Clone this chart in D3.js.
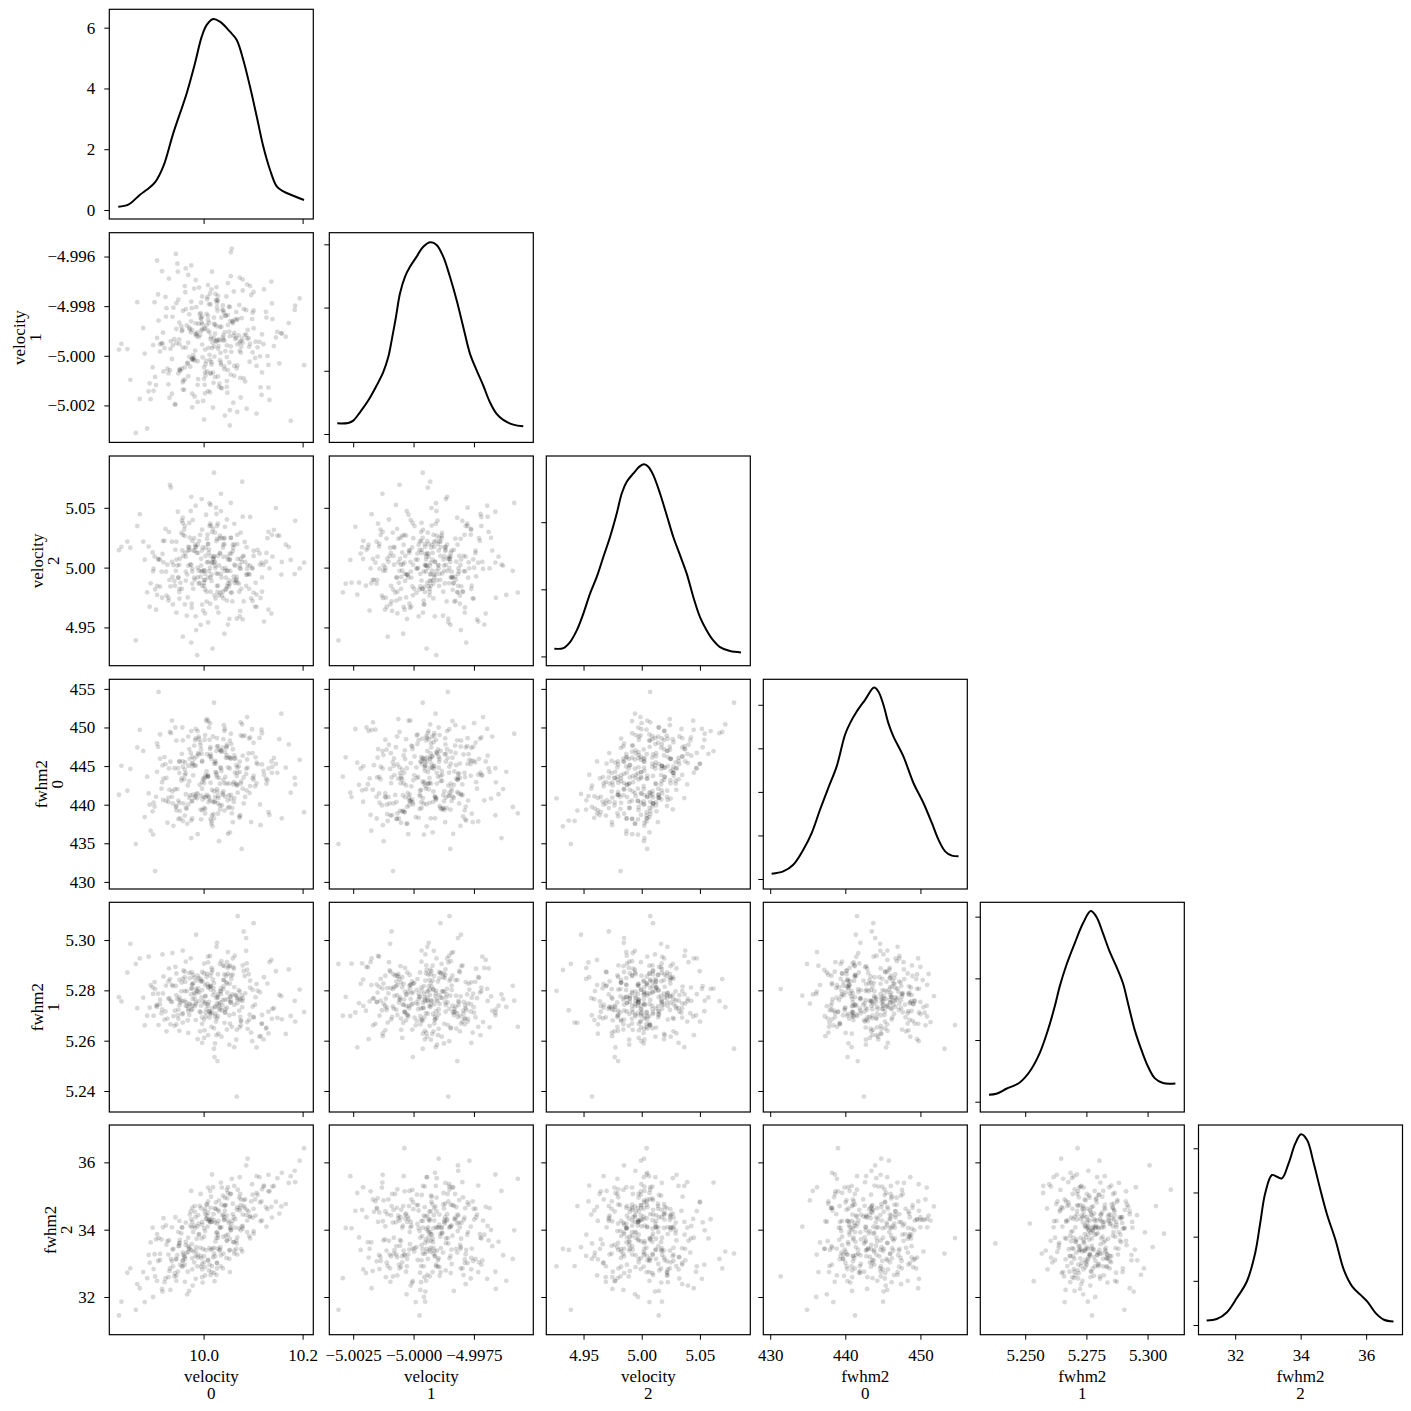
<!DOCTYPE html>
<html>
<head>
<meta charset="utf-8">
<script src="https://cdn.jsdelivr.net/npm/d3@7"></script>
<style>
  body { margin: 0; background: #fff; }
  text { font-family: "Liberation Serif", "DejaVu Serif", serif; }
</style>
</head>
<body>
<div class="vis-pairplot"></div>
<script>
// posterior draws, one array per variable (same draw index across arrays)
const velocity0 = [
  10.021, 9.968, 10.083, 9.995, 10.047, 9.912, 10.126, 10.003, 9.957, 10.061,
  10.034, 9.889, 10.012, 10.098, 9.976, 10.055, 9.941, 10.019, 10.142, 9.985,
  9.927, 10.071, 10.008, 9.962, 10.113, 10.026, 9.871, 10.044, 9.998, 10.088,
  10.015, 9.949, 10.067, 9.983, 10.176, 10.039, 9.934, 10.002, 10.059, 9.906,
  10.093, 9.972, 10.029, 10.117, 9.958, 10.006, 9.897, 10.052, 9.991, 10.074,
  9.945, 10.038, 10.131, 9.979, 10.011, 9.863, 10.064, 10.025, 9.953, 10.101,
  10.047, 9.988, 9.924, 10.079, 10.016, 10.158, 9.966, 10.032, 9.917, 10.057,
  10.004, 10.091, 9.939, 10.022, 9.975, 10.068, 9.846, 10.013, 10.107, 9.993,
  10.036, 9.961, 10.076, 9.901, 10.049, 10.009, 10.122, 9.982, 10.027, 9.948,
  10.084, 9.997, 10.041, 9.931, 10.062, 10.194, 9.969, 10.018, 9.909, 10.053,
  9.986, 10.072, 10.001, 9.955, 10.137, 10.031, 9.921, 10.045, 9.978, 10.096,
  10.024, 9.943, 10.058, 9.881, 10.014, 10.086, 9.964, 10.035, 10.149, 9.994,
  9.936, 10.066, 10.007, 10.104, 9.971, 10.043, 9.898, 10.028, 9.989, 10.078,
  10.051, 9.952, 10.118, 9.981, 10.037, 9.829, 10.063, 10.005, 9.944, 10.089,
  10.019, 9.915, 10.081, 9.999, 10.166, 10.046, 9.973, 10.033, 9.958, 10.109,
  9.992, 10.056, 9.929, 10.023, 10.094, 9.967, 10.042, 9.886, 10.069, 10.011,
  10.129, 9.984, 10.048, 9.937, 10.017, 10.073, 9.902, 10.039, 9.976, 10.203,
  10.003, 10.087, 9.951, 10.029, 9.919, 10.061, 9.996, 10.115, 9.963, 10.044,
  9.979, 10.054, 10.012, 9.893, 10.099, 10.026, 9.947, 10.067, 9.987, 10.138,
  10.031, 9.959, 10.077, 9.933, 10.009, 10.184, 9.974, 10.052, 9.908, 10.021,
  10.043, 9.962, 10.101, 10.010, 9.904, 10.059, 10.016, 9.981, 10.146, 9.942,
  9.997, 10.075, 9.929, 10.027, 10.121, 9.977, 9.878, 10.049, 10.004, 10.086,
  10.023, 9.951, 10.053, 9.988, 10.172, 9.916, 10.035, 9.969, 10.066, 10.007,
  9.938, 10.014, 10.133, 9.956, 10.047, 9.995, 10.079, 9.852, 10.029, 9.975,
  10.062, 10.001, 9.923, 10.107, 10.021, 9.964, 10.042, 10.092, 9.984, 9.891,
  9.990, 10.033, 10.073, 9.945, 10.013, 10.157, 9.971, 10.055, 9.912, 10.026,
  10.114, 10.009, 9.977, 10.040, 9.949, 10.068, 9.997, 10.017, 10.081, 9.834,
  9.958, 10.047, 10.003, 10.127, 9.932, 10.024, 10.053, 9.982, 10.036, 10.099,
  10.014, 9.984, 10.027, 9.936, 10.075, 10.001, 10.139, 9.962, 10.042, 9.995,
  10.055, 9.925, 10.020, 10.088, 9.969, 10.035, 10.006, 9.899, 10.068, 10.049,
  9.977, 10.029, 10.105, 9.997, 10.013, 9.951, 10.060, 9.990, 10.185, 9.956,
  10.033, 9.994, 9.958, 10.073, 10.009, 10.118, 9.918, 10.021, 9.977, 10.055,
  10.001, 10.094, 9.984, 10.016, 9.866, 10.040, 10.075, 9.964, 10.027, 10.131,
  10.049, 9.971, 10.014, 10.101, 9.988, 9.945, 10.030, 10.062, 10.009, 9.930,
  9.951, 10.023, 10.040, 10.003, 10.079, 9.975, 10.153, 9.997, 10.053, 9.906
];
const velocity1 = [
  -4.99872, -5.00031, -4.99915, -4.99786, -5.00102, -4.99954, -4.99823, -5.00067, -4.99896, -4.99741,
  -4.99988, -5.00143, -4.99907, -4.99852, -5.00015, -4.99679, -4.99933, -5.00209, -4.99961, -4.99804,
  -5.00052, -4.99918, -4.99763, -5.00096, -4.99944, -4.99881, -5.00174, -4.99838, -5.00006, -4.99712,
  -4.99925, -5.00071, -4.99856, -4.99979, -5.00262, -4.99797, -4.99941, -5.00117, -4.99869, -4.99616,
  -5.00024, -4.99893, -4.99759, -5.00158, -4.99967, -4.99831, -5.00047, -4.99903, -4.99725, -5.00089,
  -4.99948, -4.99814, -5.00128, -4.99997, -4.99867, -5.00311, -4.99932, -4.99776, -5.00061, -4.99889,
  -4.99958, -5.00186, -4.99842, -4.99693, -5.00035, -4.99911, -4.99878, -5.00112, -4.99951, -4.99568,
  -5.00079, -4.99929, -4.99806, -5.00003, -4.99861, -5.00226, -4.99973, -4.99749, -5.00041, -4.99917,
  -4.99846, -5.00137, -4.99963, -4.99784, -5.00058, -4.99899, -4.99732, -5.00019, -4.99937, -4.99661,
  -5.00104, -4.99955, -4.99827, -5.00169, -4.99908, -4.99769, -5.00082, -4.99946, -4.99858, -5.00281,
  -4.99921, -4.99795, -5.00047, -4.99882, -4.99701, -5.00124, -4.99969, -4.99839, -5.00012, -4.99755,
  -4.99941, -5.00195, -4.99863, -4.99991, -5.00073, -4.99816, -4.99648, -5.00036, -4.99904, -4.99847,
  -5.00153, -4.99928, -4.99772, -5.00009, -4.99887, -5.00241, -4.99957, -4.99819, -5.00094, -4.99931,
  -4.99802, -5.00056, -4.99914, -4.99729, -5.00131, -4.99975, -4.99853, -5.00021, -4.99589, -4.99896,
  -5.00068, -4.99949, -4.99811, -5.00182, -4.99923, -4.99761, -5.00044, -4.99884, -5.00107, -4.99966,
  -4.99833, -4.99984, -5.00115, -4.99874, -4.99719, -5.00029, -4.99938, -5.00293, -4.99851, -4.99792,
  -5.00001, -4.99912, -5.00149, -4.99843, -4.99969, -4.99685, -5.00085, -4.99927, -4.99808, -5.00038,
  -4.99892, -5.00213, -4.99953, -4.99778, -5.00063, -4.99919, -4.99866, -5.00127, -4.99744, -4.99981,
  -5.00016, -4.99859, -4.99996, -5.00175, -4.99826, -4.99943, -4.99629, -5.00051, -4.99906, -4.99789,
  -4.99934, -5.00099, -4.99848, -4.99972, -5.00142, -4.99815, -4.99905, -5.00027, -4.99753, -4.99962,
  -4.99905, -5.00047, -4.99817, -4.99968, -5.00118, -4.99861, -4.99732, -5.00009, -4.99926, -5.00197,
  -4.99842, -4.99987, -5.00071, -4.99776, -4.99953, -5.00153, -4.99888, -4.99707, -5.00034, -4.99916,
  -5.00086, -4.99934, -4.99803, -5.00022, -4.99868, -4.99659, -5.00129, -4.99947, -4.99824, -5.00063,
  -4.99958, -4.99793, -5.00178, -4.99901, -5.00005, -4.99851, -4.99737, -5.00097, -4.99972, -4.99636,
  -5.00041, -4.99889, -4.99763, -5.00233, -4.99929, -4.99812, -5.00054, -4.99964, -4.99695, -5.00111,
  -4.99871, -5.00018, -4.99946, -4.99788, -5.00147, -4.99909, -4.99833, -5.00076, -4.99983, -4.99723,
  -5.00002, -4.99856, -5.00208, -4.99937, -4.99774, -5.00039, -4.99894, -4.99661, -5.00091, -4.99952,
  -4.99819, -5.00125, -4.99975, -4.99846, -5.00058, -4.99751, -4.99921, -5.00164, -4.99883, -4.99986,
  -5.00069, -4.99914, -4.99787, -5.00013, -4.99941, -5.00257, -4.99852, -4.99719, -5.00043, -4.99899,
  -4.99962, -4.99808, -5.00109, -4.99931, -4.99674, -5.00028, -4.99877, -5.00141, -4.99954, -4.99836,
  -4.99896, -5.00083, -4.99943, -4.99761, -5.00017, -4.99866, -5.00189, -4.99924, -4.99798, -5.00052,
  -4.99939, -4.99828, -5.00136, -4.99979, -4.99715, -5.00067, -4.99907, -4.99846, -5.00011, -4.99583,
  -5.00093, -4.99951, -4.99869, -5.00026, -4.99784, -4.99918, -5.00168, -4.99967, -4.99805, -5.00037,
  -4.99876, -5.00004, -4.99933, -4.99743, -5.00117, -4.99892, -4.99961, -5.00081, -4.99839, -4.99689,
  -5.00056, -4.99911, -4.99818, -5.00151, -4.99947, -4.99782, -5.00031, -4.99873, -5.00219, -4.99928
];
const velocity2 = [
  5.0093, 4.9751, 5.0214, 4.9968, 5.0402, 4.9841, 5.0049, 4.9617, 5.0143, 4.9926,
  4.9790, 5.0176, 5.0538, 4.9997, 4.9664, 5.0249, 4.9888, 5.0073, 5.0316, 4.9478,
  5.0024, 4.9866, 5.0275, 4.9692, 5.0118, 4.9951, 5.0447, 4.9814, 5.0168, 4.9989,
  5.0351, 4.9917, 4.9573, 5.0191, 5.0064, 4.9800, 5.0668, 4.9976, 5.0139, 4.9772,
  4.9942, 5.0251, 4.9849, 5.0041, 5.0374, 4.9716, 5.0127, 4.9893, 5.0223, 4.9638,
  5.0067, 4.9993, 5.0299, 4.9823, 5.0151, 4.9391, 5.0016, 5.0501, 4.9873, 5.0097,
  4.9724, 5.0192, 4.9966, 5.0426, 4.9889, 5.0047, 4.9598, 5.0243, 5.0114, 4.9791,
  5.0166, 4.9948, 5.0022, 4.9768, 5.0592, 4.9874, 5.0218, 4.9999, 4.9672, 5.0273,
  4.9917, 5.0318, 4.9823, 5.0092, 4.9973, 5.0197, 4.9549, 5.0141, 4.9846, 5.0467,
  5.0048, 4.9691, 5.0242, 4.9897, 5.0366, 4.9994, 5.0174, 4.9323, 5.0072, 4.9866,
  5.0123, 4.9798, 4.9974, 5.0291, 4.9616, 5.0018, 5.0224, 4.9917, 5.0397, 4.9743,
  4.9996, 5.0149, 4.9717, 5.0066, 5.0524, 4.9848, 5.0091, 4.9947, 5.0268, 4.9522,
  5.0217, 4.9892, 5.0043, 4.9674, 5.0172, 5.0341, 4.9968, 4.9797, 5.0124, 5.0718,
  4.9843, 5.0074, 4.9918, 5.0247, 4.9766, 5.0146, 4.9871, 5.0442, 4.9973, 5.0021,
  5.0324, 4.9967, 5.0098, 4.9641, 5.0192, 4.9821, 5.0026, 5.0267, 4.9423, 5.0148,
  4.9872, 5.0117, 4.9748, 5.0017, 5.0423, 4.9942, 5.0196, 4.9793, 5.0073, 4.9971,
  5.0246, 4.9593, 5.0091, 4.9923, 5.0297, 4.9994, 4.9818, 5.0167, 4.9698, 5.0042,
  4.9947, 5.0171, 4.9796, 5.0368, 5.0043, 4.9894, 5.0573, 4.9746, 5.0122, 4.9997,
  5.0143, 4.9972, 5.0347, 4.9869, 4.9721, 5.0221, 5.0017, 4.9922, 4.9268, 5.0274,
  4.9767, 5.0096, 5.0047, 4.9843, 5.0198, 4.9946, 5.0473, 4.9571, 5.0068, 5.0793,
  4.9973, 5.0266, 4.9791, 5.0124, 4.9648, 5.0192, 5.0041, 4.9917, 5.0498, 4.9849,
  5.0142, 4.9991, 4.9724, 5.0348, 5.0023, 4.9866, 5.0217, 4.9524, 5.0097, 4.9941,
  5.0292, 4.9823, 5.0067, 4.9918, 5.0173, 4.9748, 5.0617, 5.0016, 4.9899, 5.0241,
  4.9692, 5.0098, 4.9993, 5.0392, 4.9842, 5.0074, 4.9567, 5.0166, 4.9948, 5.0024,
  5.0191, 4.9898, 5.0323, 4.9774, 5.0041, 4.9967, 5.0248, 4.9823, 5.0517, 4.9673,
  4.9867, 5.0123, 5.0018, 4.9624, 5.0367, 4.9942, 5.0148, 4.9791, 5.0066, 5.0448,
  5.0023, 4.9542, 5.0224, 5.0091, 4.9916, 5.0273, 4.9848, 5.0042, 4.9717, 5.0174,
  5.0417, 4.9974, 4.9817, 5.0123, 5.0692, 4.9741, 5.0066, 4.9898, 5.0249, 4.9992,
  4.9918, 5.0173, 4.9667, 5.0048, 5.0292, 4.9874, 5.0092, 5.0348, 4.9447, 5.0017,
  5.0248, 4.9766, 5.0074, 4.9941, 5.0142, 5.0473, 4.9798, 4.9991, 5.0197, 4.9867,
  4.9992, 5.0098, 4.9873, 5.0317, 4.9698, 5.0023, 5.0166, 4.9974, 5.0391, 4.9823,
  5.0117, 4.9924, 5.0273, 4.9592, 5.0048, 4.9798, 5.0223, 5.0092, 4.9967, 5.0541,
  4.9848, 5.0017, 5.0172, 4.9942, 5.0348, 4.9742, 5.0073, 4.9892, 5.0241, 4.9648,
  5.0067, 5.0373, 4.9798, 5.0141, 4.9998, 5.0217, 4.9623, 5.0024, 4.9917, 5.0298,
  4.9741, 5.0048, 5.0192, 4.9898, 5.0092, 4.9373, 5.0267, 4.9973, 5.0117, 4.9848
];
const fwhm2_0 = [
  441.74, 442.50, 448.94, 438.11, 447.76, 445.96, 443.37, 438.87, 450.00, 442.91,
  444.82, 441.46, 448.40, 449.77, 440.40, 440.79, 444.72, 440.38, 446.06, 441.40,
  437.66, 444.95, 443.74, 438.59, 448.65, 443.87, 449.69, 441.03, 440.67, 451.35,
  446.24, 438.16, 442.48, 448.36, 441.56, 441.26, 449.26, 448.41, 437.73, 444.26,
  441.50, 445.94, 438.84, 449.71, 445.61, 444.31, 439.14, 442.74, 448.54, 438.64,
  448.30, 441.45, 444.70, 443.80, 440.90, 434.90, 445.98, 445.29, 438.21, 443.72,
  442.73, 449.55, 440.49, 446.35, 445.91, 438.23, 439.49, 447.13, 445.08, 438.88,
  443.84, 446.64, 437.26, 440.30, 449.54, 442.57, 441.81, 450.56, 442.77, 448.09,
  446.87, 443.28, 443.01, 439.76, 444.84, 443.61, 443.89, 440.90, 442.00, 444.72,
  441.00, 442.94, 450.30, 441.95, 440.86, 445.81, 445.03, 437.20, 454.60, 446.13,
  446.27, 438.49, 443.26, 443.11, 445.60, 435.28, 446.17, 446.08, 445.39, 437.75,
  444.22, 450.00, 439.56, 438.40, 447.44, 443.98, 441.35, 447.04, 444.13, 439.37,
  441.02, 442.74, 446.54, 442.38, 443.05, 449.80, 436.13, 441.65, 446.67, 450.40,
  441.21, 439.19, 449.25, 445.94, 439.90, 441.29, 444.15, 450.88, 439.70, 444.79,
  448.83, 442.07, 440.16, 443.40, 444.80, 447.37, 441.22, 439.38, 437.89, 445.25,
  442.57, 447.85, 440.92, 440.43, 448.73, 437.54, 449.55, 443.63, 441.56, 449.99,
  443.17, 441.08, 446.10, 441.72, 441.93, 444.22, 431.40, 447.40, 445.32, 439.02,
  449.02, 441.86, 445.61, 447.59, 443.37, 440.36, 446.59, 437.35, 445.48, 443.60,
  441.29, 446.03, 446.24, 436.63, 446.69, 446.96, 442.02, 443.70, 440.82, 444.13,
  443.46, 440.16, 434.27, 445.57, 443.61, 443.48, 446.70, 439.71, 447.50, 453.20,
  446.82, 444.53, 443.24, 440.33, 441.02, 447.18, 437.83, 447.66, 445.29, 442.00,
  442.08, 448.97, 440.35, 448.61, 444.39, 438.21, 446.96, 440.56, 440.95, 444.66,
  445.49, 440.24, 448.30, 436.18, 447.80, 442.90, 446.94, 440.04, 445.12, 451.09,
  440.17, 446.50, 438.68, 446.58, 447.55, 441.17, 442.08, 444.63, 441.10, 435.68,
  446.38, 439.57, 445.26, 445.44, 438.23, 444.05, 442.77, 448.56, 449.81, 440.00,
  446.53, 439.93, 445.58, 439.27, 447.20, 451.79, 440.90, 441.26, 449.09, 444.14,
  440.04, 441.12, 444.98, 448.48, 440.53, 444.13, 445.57, 438.62, 443.52, 445.03,
  448.33, 446.43, 439.45, 442.71, 449.43, 445.67, 436.42, 445.12, 444.36, 443.43,
  438.16, 445.03, 443.57, 450.90, 442.72, 440.99, 444.91, 443.86, 439.24, 447.16,
  445.94, 443.46, 438.79, 445.85, 448.82, 444.72, 441.26, 440.26, 444.80, 436.23,
  446.20, 440.16, 446.13, 445.66, 440.57, 445.58, 442.65, 448.80, 442.62, 443.41,
  442.71, 447.66, 444.92, 438.30, 443.77, 445.22, 440.62, 445.31, 440.49, 449.19,
  442.80, 442.41, 448.59, 437.54, 447.42, 441.71, 450.67, 439.57, 447.53, 439.04,
  439.58, 447.20, 442.84, 448.02, 441.45, 439.83, 440.85, 445.98, 450.83, 444.70,
  444.09, 441.00, 443.22, 443.53, 448.87, 437.94, 448.49, 439.30, 444.69, 447.94
];
const fwhm2_1 = [
  5.2794, 5.2681, 5.2857, 5.2739, 5.2912, 5.2763, 5.2648, 5.2821, 5.2705, 5.2886,
  5.2752, 5.2934, 5.2717, 5.2598, 5.2808, 5.2776, 5.2659, 5.2843, 5.2729, 5.3021,
  5.2688, 5.2801, 5.2745, 5.2874, 5.2616, 5.2769, 5.2927, 5.2712, 5.2836, 5.2674,
  5.2815, 5.2723, 5.2378, 5.2787, 5.2698, 5.2899, 5.2757, 5.2641, 5.2862, 5.2734,
  5.2703, 5.2848, 5.2771, 5.2667, 5.2958, 5.2726, 5.2812, 5.2584, 5.2791, 5.2694,
  5.2867, 5.2741, 5.2629, 5.2829, 5.2715, 5.2905, 5.2782, 5.2676, 5.2751, 5.3067,
  5.2731, 5.2606, 5.2819, 5.2758, 5.2889, 5.2685, 5.2797, 5.2722, 5.2943, 5.2655,
  5.2778, 5.2864, 5.2697, 5.2535, 5.2806, 5.2749, 5.2871, 5.2711, 5.2825, 5.2637,
  5.2916, 5.2759, 5.2678, 5.2833, 5.2764, 5.2622, 5.2852, 5.2737, 5.2989, 5.2701,
  5.2788, 5.2693, 5.2841, 5.2768, 5.2574, 5.2803, 5.2727, 5.2881, 5.2662, 5.2774,
  5.2839, 5.2719, 5.2611, 5.2796, 5.2921, 5.2747, 5.2684, 5.2858, 5.2766, 5.2632,
  5.2707, 5.2893, 5.2784, 5.2661, 5.2817, 5.3008, 5.2739, 5.2795, 5.2691, 5.2846,
  5.2753, 5.2604, 5.2826, 5.2743, 5.2869, 5.2712, 5.2786, 5.2519, 5.2809, 5.2733,
  5.2896, 5.2762, 5.2668, 5.2851, 5.2721, 5.2773, 5.2938, 5.2696, 5.2818, 5.2647,
  5.2781, 5.2709, 5.2877, 5.2756, 5.2627, 5.2832, 5.2744, 5.2905, 5.2672, 5.2799,
  5.2716, 5.2845, 5.2767, 5.2589, 5.2811, 5.2737, 5.2863, 5.2699, 5.3095, 5.2754,
  5.2827, 5.2682, 5.2791, 5.2948, 5.2728, 5.2653, 5.2805, 5.2761, 5.2872, 5.2714,
  5.2746, 5.2907, 5.2639, 5.2784, 5.2855, 5.2706, 5.2772, 5.2618, 5.2834, 5.2725,
  5.2861, 5.2752, 5.2692, 5.2821, 5.2735, 5.2973, 5.2765, 5.2643, 5.2798, 5.2687,
  5.2738, 5.2879, 5.2779, 5.2665, 5.2814, 5.2758, 5.2927, 5.2701, 5.2787, 5.2568,
  5.2763, 5.2852, 5.2694, 5.2811, 5.2738, 5.2927, 5.2655, 5.2789, 5.2876, 5.2719,
  5.2801, 5.2679, 5.2836, 5.2748, 5.2605, 5.2823, 5.2771, 5.2889, 5.2712, 5.2957,
  5.2736, 5.2842, 5.2668, 5.2795, 5.2883, 5.2724, 5.2807, 5.2631, 5.2779, 5.2865,
  5.2817, 5.2706, 5.2912, 5.2757, 5.2644, 5.2838, 5.2769, 5.2985, 5.2697, 5.2784,
  5.2742, 5.2868, 5.2716, 5.2573, 5.2829, 5.2753, 5.2896, 5.2683, 5.2806, 5.2731,
  5.2849, 5.2728, 5.2794, 5.2665, 5.2937, 5.2777, 5.2702, 5.2859, 5.2745, 5.2622,
  5.2792, 5.2911, 5.2738, 5.2816, 5.2687, 5.2764, 5.2873, 5.2711, 5.3034, 5.2756,
  5.2709, 5.2827, 5.2776, 5.2652, 5.2845, 5.2733, 5.2898, 5.2768, 5.2616, 5.2802,
  5.2858, 5.2744, 5.2689, 5.2822, 5.2761, 5.2906, 5.2726, 5.2797, 5.2671, 5.2835,
  5.2751, 5.2637, 5.2809, 5.2882, 5.2718, 5.2785, 5.2853, 5.2699, 5.2771, 5.2952,
  5.2725, 5.2864, 5.2773, 5.2591, 5.2819, 5.2741, 5.2892, 5.2757, 5.2676, 5.2831,
  5.2797, 5.2713, 5.2846, 5.2765, 5.2934, 5.2702, 5.2788, 5.2649, 5.2824, 5.2759,
  5.2684, 5.2839, 5.2752, 5.2871, 5.2729, 5.2805, 5.2661, 5.2914, 5.2776, 5.2715,
  5.2866, 5.2747, 5.2803, 5.2693, 5.2858, 5.2781, 5.2628, 5.2813, 5.2739, 5.2887,
  5.2772, 5.2696, 5.2841, 5.2754, 5.2899, 5.2721, 5.2782, 5.2667, 5.2826, 5.2743
];
const fwhm2_2 = [
  34.28, 32.75, 34.65, 34.64, 33.67, 33.28, 34.67, 32.64, 34.07, 34.37,
  33.48, 33.25, 32.96, 35.35, 33.57, 33.99, 32.61, 35.26, 35.30, 33.48,
  33.66, 34.04, 34.09, 32.45, 35.56, 33.91, 32.26, 34.73, 32.43, 34.27,
  34.98, 33.51, 33.59, 34.05, 35.59, 32.85, 33.13, 34.54, 34.77, 32.48,
  34.39, 34.45, 33.44, 34.84, 33.09, 34.32, 34.06, 33.38, 33.87, 35.06,
  32.48, 34.42, 35.63, 33.35, 32.79, 31.62, 34.31, 34.81, 32.96, 33.88,
  34.42, 33.17, 34.13, 34.11, 34.33, 35.69, 33.32, 33.38, 32.16, 35.51,
  33.39, 34.54, 33.43, 32.47, 34.31, 33.77, 32.72, 34.30, 35.59, 33.46,
  34.74, 33.19, 33.42, 33.27, 34.27, 33.10, 35.31, 34.70, 33.92, 32.75,
  34.90, 32.59, 34.29, 32.77, 35.30, 36.05, 33.76, 33.43, 33.75, 34.05,
  33.73, 34.96, 33.03, 33.89, 34.68, 34.87, 32.44, 33.82, 32.34, 34.84,
  33.65, 34.37, 34.26, 31.85, 34.22, 35.91, 33.64, 33.24, 35.53, 33.22,
  33.06, 33.67, 34.74, 34.90, 33.45, 34.56, 32.00, 34.18, 34.43, 33.35,
  34.20, 33.70, 34.27, 33.03, 35.25, 31.45, 34.06, 34.32, 33.13, 36.11,
  33.18, 33.71, 34.88, 33.43, 34.76, 33.16, 34.12, 34.05, 32.92, 35.03,
  34.71, 34.17, 32.59, 34.63, 33.74, 32.08, 34.30, 32.56, 35.19, 34.29,
  34.61, 33.22, 34.93, 33.41, 32.92, 34.64, 32.61, 35.01, 34.07, 36.42,
  32.89, 34.59, 33.61, 33.85, 34.34, 33.63, 33.74, 34.25, 33.13, 34.73,
  33.93, 35.06, 33.45, 33.62, 34.36, 32.66, 33.24, 34.59, 32.91, 34.36,
  34.54, 33.26, 34.09, 32.21, 34.51, 35.75, 34.55, 33.13, 33.07, 33.29,
  34.95, 33.21, 33.96, 34.26, 33.71, 34.46, 32.74, 34.12, 34.83, 32.71,
  32.98, 34.73, 33.26, 33.01, 35.28, 34.65, 32.74, 33.85, 34.45, 34.43,
  34.21, 34.26, 33.73, 33.26, 35.39, 32.24, 35.40, 33.34, 33.43, 34.42,
  32.91, 32.65, 35.14, 34.06, 35.18, 33.15, 34.45, 32.85, 33.76, 35.15,
  33.38, 33.79, 32.55, 35.09, 33.46, 34.21, 34.37, 33.81, 32.54, 33.02,
  34.18, 33.41, 35.56, 33.12, 34.23, 34.69, 32.18, 35.06, 33.10, 33.76,
  34.81, 34.84, 32.82, 33.79, 33.93, 33.26, 34.15, 35.64, 34.70, 31.86,
  33.32, 33.68, 33.96, 34.09, 32.85, 34.62, 32.74, 34.53, 34.07, 35.04,
  34.65, 33.37, 33.01, 34.07, 33.98, 34.04, 35.28, 32.96, 34.70, 32.90,
  34.06, 33.55, 34.46, 33.93, 33.51, 32.91, 34.75, 32.83, 34.67, 35.26,
  33.15, 34.59, 34.42, 32.82, 35.15, 33.60, 33.63, 33.85, 35.41, 32.90,
  34.07, 35.06, 33.07, 34.57, 33.09, 35.20, 34.07, 32.71, 34.23, 33.98,
  33.21, 34.39, 34.37, 34.23, 32.38, 33.29, 34.90, 33.54, 32.85, 35.14,
  35.09, 33.43, 33.40, 34.62, 34.10, 32.63, 34.26, 33.29, 35.25, 33.68,
  33.52, 33.21, 34.45, 34.62, 34.03, 33.40, 34.48, 34.23, 33.40, 33.87
];

// marginal KDE curves: grid values and densities
const kdeGrid0 = [9.8277, 9.8479, 9.8715, 9.8851, 9.9018, 9.9186, 9.9388, 9.9659, 9.9826, 9.9962, 10.0063, 10.0196,
  10.0331, 10.0533, 10.0669, 10.0802, 10.0937, 10.1073, 10.1206, 10.1341, 10.1477, 10.161, 10.1812, 10.2028];
const kdeDens0 = [0.108, 0.174, 0.503, 0.667, 0.907, 1.433, 2.530, 3.845, 4.831, 5.705, 6.090, 6.286,
  6.197, 5.868, 5.596, 4.939, 4.062, 3.076, 2.090, 1.325, 0.776, 0.611, 0.470, 0.329];
const kdeGrid1 = [-5.003161, -5.002705, -5.002498, -5.002220, -5.001877, -5.001529, -5.001255, -5.001048, -5.000907,
  -5.000729, -5.000563, -5.000356, -5.000149, -4.999872, -4.999598, -4.999292, -4.999043, -4.998770, -4.998492,
  -4.998215, -4.997941, -4.997664, -4.997386, -4.997113, -4.996836, -4.996558, -4.996284, -4.995870, -4.995456];
const kdeDens1 = [16.8, 17.5, 21.1, 34.3, 52.9, 76.7, 97.8, 121.6, 148.1, 185.1, 222.2, 248.7, 264.6, 280.5,
  296.3, 303.3, 299.0, 280.5, 248.7, 211.6, 169.3, 127.1, 100.6, 76.7, 50.2, 31.7, 22.2, 14.8, 12.1];
const kdeGrid2 = [4.92492, 4.93265, 4.93841, 4.94417, 4.94983, 4.95559, 4.96135, 4.96701, 4.97277, 4.97852, 4.98282,
  4.98711, 4.99278, 4.99854, 5.00198, 5.00567, 5.00996, 5.01572, 5.02148, 5.02714, 5.03290, 5.03866, 5.04432,
  5.05008, 5.05584, 5.06150, 5.06726, 5.07585, 5.08530];
const kdeDens2 = [0.575, 0.62, 1.07, 1.94, 3.19, 4.68, 5.92, 7.41, 8.90, 10.65, 12.14, 13.01, 13.63, 14.18, 14.31,
  14.13, 13.51, 12.14, 10.52, 8.90, 7.54, 6.17, 4.43, 2.93, 1.94, 1.19, 0.69, 0.40, 0.30];
const kdeGrid3 = [430.19, 431.73, 433.07, 434.40, 435.52, 436.63, 437.73, 438.85, 439.96, 440.63, 441.52, 442.63,
  443.83, 444.40, 445.07, 445.73, 446.40, 447.73, 449.07, 450.40, 451.52, 452.40, 453.29, 454.19, 455.07];
const kdeDens3 = [0.00243, 0.00349, 0.00657, 0.01344, 0.02110, 0.03179, 0.04179, 0.05170, 0.06624, 0.07160, 0.07693,
  0.08229, 0.08794, 0.08610, 0.08000, 0.07160, 0.06546, 0.05629, 0.04408, 0.03491, 0.02573, 0.01807, 0.01271,
  0.01073, 0.01041];
const kdeGrid4 = [5.23521, 5.23823, 5.24232, 5.24775, 5.25184, 5.25592, 5.25931, 5.26205, 5.26408, 5.26683, 5.27022,
  5.27361, 5.27676, 5.27908, 5.28178, 5.28452, 5.28726, 5.28995, 5.29199, 5.29473, 5.29747, 5.30016, 5.30290,
  5.30629, 5.31136];
const kdeDens4 = [1.13, 1.29, 2.10, 3.12, 4.90, 7.88, 11.65, 15.42, 18.66, 22.17, 25.68, 28.92, 30.91, 29.99, 27.29,
  24.32, 21.89, 19.20, 15.96, 11.65, 8.41, 5.71, 3.83, 3.02, 2.96];
const kdeGrid5 = [31.129, 31.436, 31.742, 32.049, 32.356, 32.610, 32.764, 32.917, 33.123, 33.276, 33.429, 33.632,
  33.837, 34.012, 34.196, 34.399, 34.604, 34.810, 35.064, 35.319, 35.577, 35.831, 36.037, 36.291, 36.546, 36.834];
const kdeDens5 = [0.0104, 0.0136, 0.0285, 0.0610, 0.0985, 0.1626, 0.2304, 0.2982, 0.3395, 0.3357, 0.3320, 0.3659,
  0.4111, 0.4315, 0.4186, 0.3659, 0.3056, 0.2491, 0.1926, 0.1248, 0.0870, 0.0682, 0.0531, 0.0269, 0.0120, 0.0081];

// labels and ticks
const varNames = ['velocity', 'velocity', 'velocity', 'fwhm2', 'fwhm2', 'fwhm2'];
const varCoords = ['0', '1', '2', '0', '1', '2'];
const colTicks = [[10.0, 10.2], [-5.0025, -5.0, -4.9975], [4.95, 5.0, 5.05], [430, 440, 450], [5.25, 5.275, 5.3], [32, 34, 36]];
const colFormats = ['.1f', '.4f', '.2f', 'd', '.3f', 'd'];
const rowTicks = [[], [-5.002, -5.000, -4.998, -4.996], [4.95, 5.0, 5.05], [430, 435, 440, 445, 450, 455], [5.24, 5.26, 5.28, 5.30], [32, 34, 36]];
const rowFormats = ['d', '.3f', '.2f', 'd', '.2f', 'd'];
const densityTicks = [[0, 2, 4, 6], [0, 100, 200, 300], [0, 5, 10], [0, 0.02, 0.04, 0.06, 0.08], [0, 10, 20, 30], [0, 0.1, 0.2, 0.3, 0.4]];

// axis limits
const axisLimits = [[9.8095, 10.2216], [-5.00349, -4.99504], [4.9180, 5.0933], [429.08, 456.24], [5.23165, 5.31500], [30.88, 37.11]];
const densityLimits = [[-0.296, 6.605], [-13.3, 318.4], [-0.69, 14.93], [-0.00459, 0.0917], [-1.67, 32.33], [-0.0219, 0.4527]];

const draw = () => {
    d3.select('.vis-pairplot > *').remove();
    const W = 1411, H = 1411;
    const colLeft = [109.3, 329.3, 546.3, 763.3, 980.3, 1198.5];
    const rowTop = [9.3, 232.7, 456, 679.3, 902.3, 1125];
    const pw = 204, ph = 209.7;
    const fontSize = 17;
    const serif = '"Liberation Serif", "DejaVu Serif", serif';

    const svg = d3.select('.vis-pairplot')
        .append('svg')
        .attr('width', W)
        .attr('height', H);

    const samples = [velocity0, velocity1, velocity2, fwhm2_0, fwhm2_1, fwhm2_2];
    const kdes = [[kdeGrid0, kdeDens0], [kdeGrid1, kdeDens1], [kdeGrid2, kdeDens2],
                  [kdeGrid3, kdeDens3], [kdeGrid4, kdeDens4], [kdeGrid5, kdeDens5]];
    const n = samples.length;

    for (let i = 0; i < n; i++) {
        for (let j = 0; j <= i; j++) {
            const g = svg.append('g')
                .attr('transform', 'translate(' + colLeft[j] + ',' + rowTop[i] + ')');
            const x = d3.scaleLinear().domain(axisLimits[j]).range([0, pw]);
            let y;
            const clipId = 'clip_' + i + '_' + j;
            g.append('clipPath').attr('id', clipId)
                .append('rect').attr('width', pw).attr('height', ph);

            if (i === j) {
                y = d3.scaleLinear().domain(densityLimits[i]).range([ph, 0]);
                const pts = kdes[i][0].map((v, k) => [v, kdes[i][1][k]]);
                const line = d3.line()
                    .x(d => x(d[0]))
                    .y(d => y(d[1]))
                    .curve(d3.curveCatmullRom.alpha(0.5));
                g.append('path')
                    .attr('d', line(pts))
                    .attr('fill', 'none')
                    .attr('stroke', '#000')
                    .attr('stroke-width', 2)
                    .attr('clip-path', 'url(#' + clipId + ')');
            } else {
                y = d3.scaleLinear().domain(axisLimits[i]).range([ph, 0]);
                const xs = samples[j], ys = samples[i];
                g.append('g')
                    .attr('clip-path', 'url(#' + clipId + ')')
                    .selectAll('circle')
                    .data(d3.range(xs.length))
                    .join('circle')
                    .attr('cx', k => x(xs[k]))
                    .attr('cy', k => y(ys[k]))
                    .attr('r', 2.4)
                    .attr('fill', '#111')
                    .attr('fill-opacity', 0.16);
            }

            // x axis: ticks everywhere, labels only on the bottom row
            const xAxis = d3.axisBottom(x)
                .tickValues(colTicks[j])
                .tickSizeInner(5).tickSizeOuter(0).tickPadding(9)
                .tickFormat(i === n - 1 ? d3.format(colFormats[j]) : () => '');
            const xg = g.append('g')
                .attr('transform', 'translate(0,' + ph + ')')
                .call(xAxis);
            xg.select('.domain').remove();

            // y axis: ticks everywhere, labels only on the first column
            const yAxis = d3.axisLeft(y)
                .tickValues(i === j ? densityTicks[i] : rowTicks[i])
                .tickSizeInner(5).tickSizeOuter(0).tickPadding(9)
                .tickFormat(j === 0 ? d3.format(rowFormats[i]) : () => '');
            const yg = g.append('g').call(yAxis);
            yg.select('.domain').remove();

            [xg, yg].forEach(ax => {
                ax.attr('font-family', serif).attr('font-size', fontSize);
                ax.selectAll('line').attr('stroke', '#000').attr('stroke-width', 1);
                ax.selectAll('text')
                    .attr('fill', '#000')
                    .style('font-size', fontSize + 'px')
                    .style('font-family', serif);
            });

            // frame
            g.append('rect')
                .attr('width', pw).attr('height', ph)
                .attr('fill', 'none')
                .attr('stroke', '#000')
                .attr('stroke-width', 1.2);

            // x label under the bottom row
            if (i === n - 1) {
                [[ph + 42, varNames[j]], [ph + 58.5, varCoords[j]]].forEach(([ly, t]) => {
                    g.append('text')
                        .attr('x', pw / 2).attr('y', ly)
                        .attr('text-anchor', 'middle').attr('dominant-baseline', 'central')
                        .style('font-size', fontSize + 'px')
                        .style('font-family', serif)
                        .text(t);
                });
            }

            // y label left of the first column (not for the top diagonal)
            if (j === 0 && i > 0) {
                const bb = yg.node().getBBox();
                const x2 = bb.x - 12, x1 = bb.x - 28;
                [[x1, varNames[i]], [x2, varCoords[i]]].forEach(([lx, t]) => {
                    g.append('text')
                        .attr('transform', 'translate(' + lx + ',' + (ph / 2) + ') rotate(-90)')
                        .attr('text-anchor', 'middle').attr('dominant-baseline', 'central')
                        .style('font-size', fontSize + 'px')
                        .style('font-family', serif)
                        .text(t);
                });
            }
        }
    }
    return svg;
};

draw();
</script>
</body>
</html>
